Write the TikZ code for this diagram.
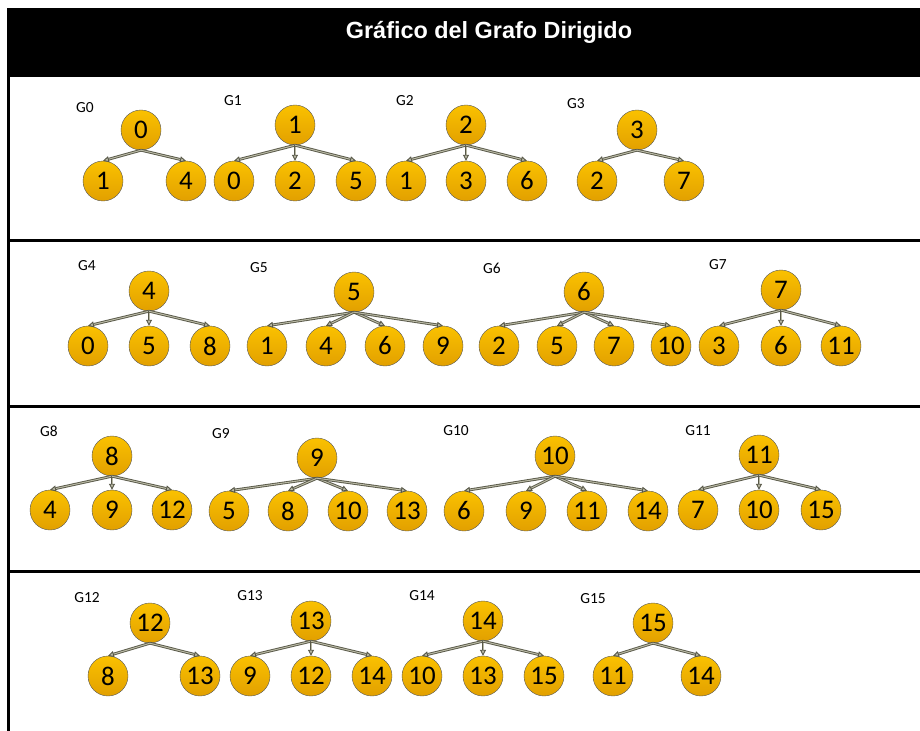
\documentclass[tikz,border=0pt]{standalone}
\usepackage{fontspec}
\setmainfont{Carlito}
\newfontfamily\titlefont{Liberation Sans}
\usetikzlibrary{arrows.meta}
\definecolor{nodetop}{RGB}{250,193,0}
\definecolor{nodebot}{RGB}{226,160,0}
\definecolor{edgeout}{RGB}{88,88,72}
\definecolor{edgein}{RGB}{185,185,165}
\begin{document}
\begin{tikzpicture}[x=1bp,y=-1bp,>={Triangle[length=6bp,width=6bp,fill=edgein]}]
        \tikzstyle{vertex}=[circle,draw=black!65,top color=nodetop,bottom color=nodebot,minimum size=40bp,inner sep=0pt,font=\fontsize{27}{27}\selectfont]
        \tikzstyle{edge}=[->,draw=edgeout,double=edgein,double distance=1bp,line width=0.9bp]
        \tikzstyle{glabel}=[font=\fontsize{15.5}{15.5}\selectfont]
        \tikzstyle{rule}=[line width=3bp]
        \useasboundingbox (0,0) rectangle (920,731);
        % title bar and frame
        \fill[black] (7,8) rectangle (920,77);
        \node [text=white,font=\titlefont\bfseries\fontsize{23.5}{23.5}\selectfont] (title) at (489,32) {Gráfico del Grafo Dirigido};
        \draw[rule] (8.5,77) -- (8.5,731);
        \draw[rule] (8.5,240.5) -- (920,240.5);
        \draw[rule] (8.5,406.5) -- (920,406.5);
        \draw[rule] (8.5,571.5) -- (920,571.5);
       % row 1
       \begin{scope}
         \node [glabel] (l0) at (85,108) {G0};
         \node [vertex] (g0) at (141,130) {0};
         \node [vertex] (g0a) at (103,181) {1};
         \node [vertex] (g0b) at (186,181) {4};
         \draw[edge] (g0.south) -- (g0a.north);
         \draw[edge] (g0.south) -- (g0b.north);
         \node [glabel] (l1) at (233,101) {G1};
         \node [vertex] (g1) at (295,125) {1};
         \node [vertex] (g1a) at (234,181) {0};
         \node [vertex] (g1b) at (295,181) {2};
         \node [vertex] (g1c) at (356,181) {5};
         \draw[edge] (g1.south) -- (g1a.north);
         \draw[edge] (g1.south) -- (g1b.north);
         \draw[edge] (g1.south) -- (g1c.north);
         \node [glabel] (l2) at (405,101) {G2};
         \node [vertex] (g2) at (466,125) {2};
         \node [vertex] (g2a) at (406,181) {1};
         \node [vertex] (g2b) at (466,181) {3};
         \node [vertex] (g2c) at (527,181) {6};
         \draw[edge] (g2.south) -- (g2a.north);
         \draw[edge] (g2.south) -- (g2b.north);
         \draw[edge] (g2.south) -- (g2c.north);
         \node [glabel] (l3) at (576,104) {G3};
         \node [vertex] (g3) at (637,130) {3};
         \node [vertex] (g3a) at (597,181) {2};
         \node [vertex] (g3b) at (684,181) {7};
         \draw[edge] (g3.south) -- (g3a.north);
         \draw[edge] (g3.south) -- (g3b.north);
        \end{scope}
       % row 2
       \begin{scope}
         \node [glabel] (l4) at (87,266) {G4};
         \node [vertex] (g4) at (149,291) {4};
         \node [vertex] (g4a) at (88,346) {0};
         \node [vertex] (g4b) at (149,346) {5};
         \node [vertex] (g4c) at (210,346) {8};
         \draw[edge] (g4.south) -- (g4a.north);
         \draw[edge] (g4.south) -- (g4b.north);
         \draw[edge] (g4.south) -- (g4c.north);
         \node [glabel] (l5) at (259,268) {G5};
         \node [vertex] (g5) at (354,292) {5};
         \node [vertex] (g5a) at (267,346) {1};
         \node [vertex] (g5b) at (326,346) {4};
         \node [vertex] (g5c) at (385,346) {6};
         \node [vertex] (g5d) at (443,346) {9};
         \draw[edge] (g5.south) -- (g5a.north);
         \draw[edge] (g5.south) -- (g5b.north);
         \draw[edge] (g5.south) -- (g5c.north);
         \draw[edge] (g5.south) -- (g5d.north);
         \node [glabel] (l6) at (492,268) {G6};
         \node [vertex] (g6) at (584,292) {6};
         \node [vertex] (g6a) at (499,346) {2};
         \node [vertex] (g6b) at (557,346) {5};
         \node [vertex] (g6c) at (614,346) {7};
         \node [vertex] (g6d) at (671,346) {10};
         \draw[edge] (g6.south) -- (g6a.north);
         \draw[edge] (g6.south) -- (g6b.north);
         \draw[edge] (g6.south) -- (g6c.north);
         \draw[edge] (g6.south) -- (g6d.north);
         \node [glabel] (l7) at (718,265) {G7};
         \node [vertex] (g7) at (781,290) {7};
         \node [vertex] (g7a) at (719,346) {3};
         \node [vertex] (g7b) at (781,346) {6};
         \node [vertex] (g7c) at (841,346) {11};
         \draw[edge] (g7.south) -- (g7a.north);
         \draw[edge] (g7.south) -- (g7b.north);
         \draw[edge] (g7.south) -- (g7c.north);
        \end{scope}
       % row 3
       \begin{scope}
         \node [glabel] (l8) at (49,431) {G8};
         \node [vertex] (g8) at (112,456) {8};
         \node [vertex] (g8a) at (50,510) {4};
         \node [vertex] (g8b) at (112,510) {9};
         \node [vertex] (g8c) at (172,510) {12};
         \draw[edge] (g8.south) -- (g8a.north);
         \draw[edge] (g8.south) -- (g8b.north);
         \draw[edge] (g8.south) -- (g8c.north);
         \node [glabel] (l9) at (221,434) {G9};
         \node [vertex] (g9) at (317,458) {9};
         \node [vertex] (g9a) at (229,511) {5};
         \node [vertex] (g9b) at (288,511) {8};
         \node [vertex] (g9c) at (348,511) {10};
         \node [vertex] (g9d) at (407,511) {13};
         \draw[edge] (g9.south) -- (g9a.north);
         \draw[edge] (g9.south) -- (g9b.north);
         \draw[edge] (g9.south) -- (g9c.north);
         \draw[edge] (g9.south) -- (g9d.north);
         \node [glabel] (l10) at (456,431) {G10};
         \node [vertex] (g10) at (555,456) {10};
         \node [vertex] (g10a) at (464,511) {6};
         \node [vertex] (g10b) at (526,511) {9};
         \node [vertex] (g10c) at (587,511) {11};
         \node [vertex] (g10d) at (648,511) {14};
         \draw[edge] (g10.south) -- (g10a.north);
         \draw[edge] (g10.south) -- (g10b.north);
         \draw[edge] (g10.south) -- (g10c.north);
         \draw[edge] (g10.south) -- (g10d.north);
         \node [glabel] (l11) at (698,431) {G11};
         \node [vertex] (g11) at (759,455) {11};
         \node [vertex] (g11a) at (698,510) {7};
         \node [vertex] (g11b) at (759,510) {10};
         \node [vertex] (g11c) at (821,510) {15};
         \draw[edge] (g11.south) -- (g11a.north);
         \draw[edge] (g11.south) -- (g11b.north);
         \draw[edge] (g11.south) -- (g11c.north);
        \end{scope}
       % row 4
       \begin{scope}
         \node [glabel] (l12) at (87,598) {G12};
         \node [vertex] (g12) at (150,623) {12};
         \node [vertex] (g12a) at (108,676) {8};
         \node [vertex] (g12b) at (200,676) {13};
         \draw[edge] (g12.south) -- (g12a.north);
         \draw[edge] (g12.south) -- (g12b.north);
         \node [glabel] (l13) at (250,596) {G13};
         \node [vertex] (g13) at (311,621) {13};
         \node [vertex] (g13a) at (250,676) {9};
         \node [vertex] (g13b) at (311,676) {12};
         \node [vertex] (g13c) at (372,676) {14};
         \draw[edge] (g13.south) -- (g13a.north);
         \draw[edge] (g13.south) -- (g13b.north);
         \draw[edge] (g13.south) -- (g13c.north);
         \node [glabel] (l14) at (422,596) {G14};
         \node [vertex] (g14) at (483,621) {14};
         \node [vertex] (g14a) at (422,676) {10};
         \node [vertex] (g14b) at (483,676) {13};
         \node [vertex] (g14c) at (544,676) {15};
         \draw[edge] (g14.south) -- (g14a.north);
         \draw[edge] (g14.south) -- (g14b.north);
         \draw[edge] (g14.south) -- (g14c.north);
         \node [glabel] (l15) at (593,599) {G15};
         \node [vertex] (g15) at (653,623) {15};
         \node [vertex] (g15a) at (613,676) {11};
         \node [vertex] (g15b) at (701,676) {14};
         \draw[edge] (g15.south) -- (g15a.north);
         \draw[edge] (g15.south) -- (g15b.north);
        \end{scope}
      \end{tikzpicture}
\end{document}
